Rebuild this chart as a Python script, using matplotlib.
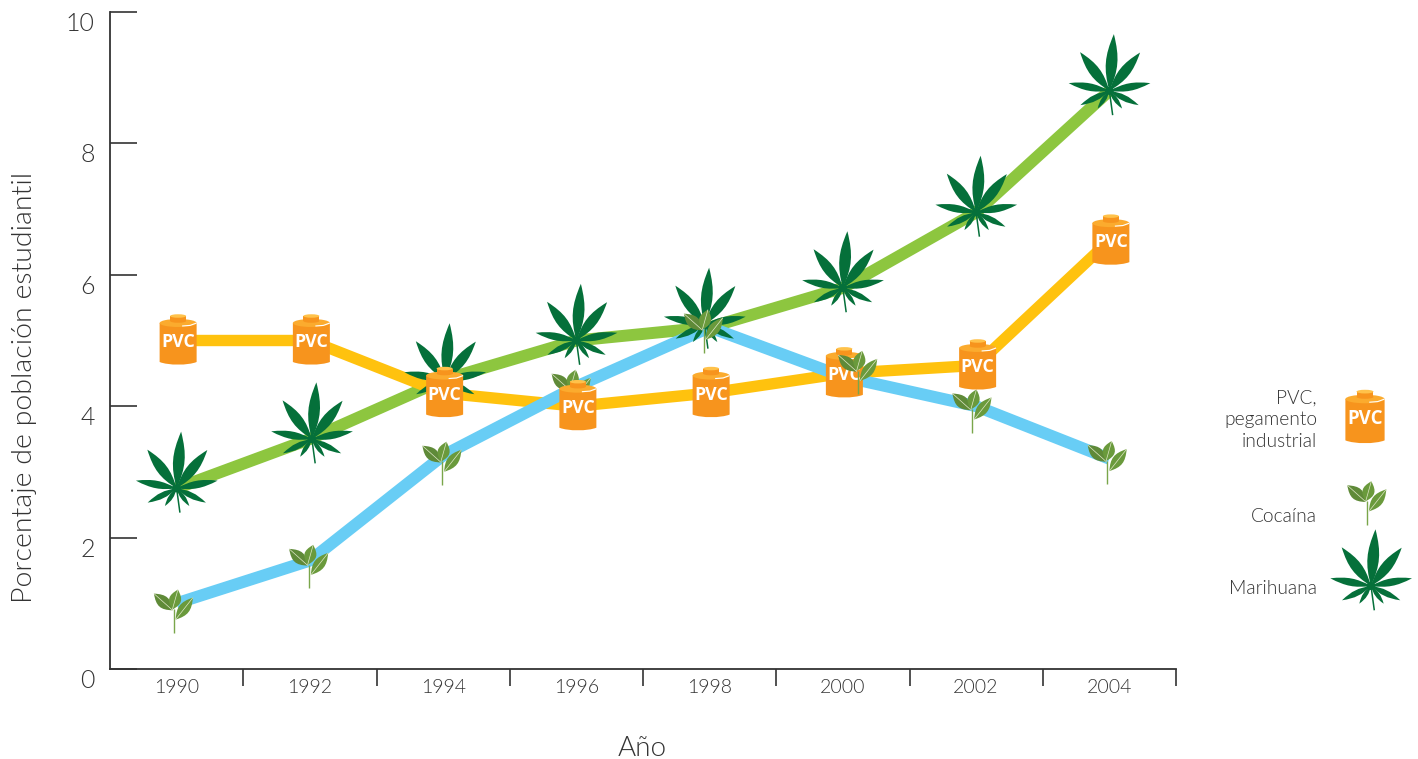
import matplotlib
matplotlib.use("Agg")
import matplotlib.pyplot as plt
import numpy as np
from matplotlib.patches import Ellipse, PathPatch
from matplotlib.path import Path
from matplotlib.transforms import Affine2D, ScaledTranslation

years = ["1990", "1992", "1994", "1996", "1998", "2000", "2002", "2004"]
marihuana = [2.75, 3.5, 4.4, 5.0, 5.2, 5.8, 6.95, 8.8]
cocaina = [1.0, 1.65, 3.25, 4.3, 5.2, 4.45, 4.0, 3.2]
pvc = [5.0, 5.0, 4.2, 4.0, 4.2, 4.5, 4.62, 6.52]

# the icons sit a little off their points in the original (pixels)
leaf_nudge = [(0, 0), (2, 0), (2, 0), (0, 0), (-5, 3), (0, 0), (0, 0), (0, 0)]
coca_nudge = [(-3, 0), (-1, 2), (-1, 0), (-5, 3), (-6, 4), (15, 12), (-4, 3), (-2, 4)]
can_nudge = (1.5, 1.5)

TEXT = "#333333"
W, H = 1418, 759

plt.rcParams["font.family"] = "Lato"
plt.rcParams["font.weight"] = 300

fig = plt.figure(figsize=(W / 100, H / 100), dpi=100)
ax = fig.add_axes([110 / W, (H - 669) / H, 1066 / W, 657 / H])
x = np.arange(len(years))


def lens(base, tip, width):
    base = np.array(base, float)
    tip = np.array(tip, float)
    d = tip - base
    n = np.array([-d[1], d[0]]) / np.hypot(*d) * width / 2 / 0.75
    verts = [base, base + d * 0.38 + n, base + d * 0.6 + n, tip,
             base + d * 0.6 - n, base + d * 0.38 - n, base, base]
    codes = [Path.MOVETO] + [Path.CURVE4] * 6 + [Path.CLOSEPOLY]
    return Path(verts, codes)


def add(patch, trans, z):
    patch.set_zorder(z)
    patch.set_clip_on(False)
    ax.add_artist(patch)
    patch.set_transform(trans)


def draw_leaf(trans, z):
    green = "#05703a"
    leaflets = [((29.3, -14.3), 6), ((-29, -14.3), 6), ((12.7, -17.7), 4.5), ((-11.7, -17.7), 4.5),
                ((41, 7.7), 7.5), ((-40.7, 7.7), 7.5), ((30.7, 38.3), 10.5), ((-29.3, 38.7), 10.5),
                ((4.5, 56.7), 11.5)]
    for tip, width in leaflets:
        add(PathPatch(lens((0, 0), tip, width), fc=green, ec="none"), trans, z)
    add(Ellipse((0, 0), 9, 8, fc=green, ec="none"), trans, z)
    add(PathPatch(Path([(0, 0), (3.3, -24.3)]), ec=green, lw=1.1, fill=False), trans, z)


def draw_coca(trans, z):
    stem = Path([(0, -6), (0, -29.7)])
    add(PathPatch(stem, ec="#7aa64a", lw=1.0, fill=False), trans, z)
    leaves = [((-1, -7), (-19.7, 9.7), 12, "#5f8a38"),
              ((-1.3, -6.3), (4.3, 13.7), 12, "#6a9a3c"),
              ((2, -16.3), (19.3, 5.7), 11, "#6a9a3c")]
    for base, tip, width, col in leaves:
        add(PathPatch(lens(base, tip, width), fc=col, ec="none"), trans, z)
        add(PathPatch(Path([base, tip]), ec="#dfe8c8", lw=0.5, fill=False), trans, z)


def draw_can(trans, z, size=12.8):
    orange = "#f7941d"
    body = Path([(-18.5, 16), (-18.5, -23), (-10, -26.5), (10, -26.5), (18.5, -23),
                 (18.5, 16), (-18.5, 16)],
                [Path.MOVETO, Path.LINETO, Path.CURVE4, Path.CURVE4, Path.CURVE4,
                 Path.LINETO, Path.CLOSEPOLY])
    add(PathPatch(body, fc=orange, ec="none"), trans, z)
    add(Ellipse((0, 16), 37, 8, fc="#fbab2e", ec="none"), trans, z)
    add(PathPatch(Path([(4, 13), (12, 13.6), (18.5, 16)]), ec="white", lw=0.8, fill=False), trans, z)
    cap = Path([(-8, 18), (-8, 23), (8, 23), (8, 18), (-8, 18)])
    add(PathPatch(cap, fc=orange, ec="none"), trans, z)
    add(Ellipse((0, 18), 16, 3.5, fc=orange, ec="none"), trans, z)
    add(Ellipse((0, 23), 16, 3.5, fc="#ffc24a", ec="none"), trans, z)
    ax.text(0, -3, "PVC", transform=trans, color="white", fontsize=size, family="Open Sans",
            weight="bold", ha="center", va="center", zorder=z, clip_on=False)


def at_point(px, py, dx=0, dy=0):
    return Affine2D().translate(dx, dy) + ScaledTranslation(px, py, ax.transData)


def at_pixel(px, py, scale=1.0):
    return Affine2D().scale(scale).translate(px, H - py)


ax.plot(x, marihuana, color="#8dc63f", lw=8.6, solid_capstyle="butt", solid_joinstyle="miter", zorder=2)
ax.plot(x, pvc, color="#ffc20e", lw=8.2, solid_capstyle="butt", solid_joinstyle="miter", zorder=3)
ax.plot(x, cocaina, color="#68cdf5", lw=8.6, solid_capstyle="butt", solid_joinstyle="miter", zorder=4)

for i in range(len(years)):
    draw_leaf(at_point(x[i], marihuana[i], *leaf_nudge[i]), 5)
    # in 2000 the plant lies on top of the can, everywhere else behind it
    draw_coca(at_point(x[i], cocaina[i], *coca_nudge[i]), 8 if years[i] == "2000" else 6)
    draw_can(at_point(x[i], pvc[i], *can_nudge), 7)

ax.set_xlim(-0.5, len(years) - 0.5)
ax.set_ylim(0, 10)
for side in ["top", "right"]:
    ax.spines[side].set_visible(False)
for side in ["left", "bottom"]:
    ax.spines[side].set_linewidth(1.3)
    ax.spines[side].set_color("#333333")

ax.set_yticks(range(0, 11, 2))
ax.tick_params(axis="y", direction="in", length=19.4, width=1.2, color="#333333",
               labelsize=18, labelcolor=TEXT, pad=11)
for lab in ax.get_yticklabels():
    lab.set_va("top")

ax.set_xticks(x)
ax.set_xticklabels(years)
ax.tick_params(axis="x", which="major", length=0, labelsize=14, labelcolor=TEXT, pad=7)
ax.set_xticks(x + 0.5, minor=True)
ax.tick_params(axis="x", which="minor", direction="out", length=12.2, width=1.2, color="#333333")

fig.text(642 / W, 1 - 748 / H, "Año", fontsize=20, color=TEXT, ha="center", va="center")
fig.text(25 / W, 1 - 387 / H, "Porcentaje de población estudiantil", fontsize=20.5, color=TEXT,
         rotation=90, ha="center", va="center")

# leyenda
fig.text(1317 / W, 1 - 420 / H, "PVC,\npegamento\nindustrial", fontsize=13.8, color=TEXT,
         ha="right", va="center", linespacing=1.35)
fig.text(1317 / W, 1 - 516 / H, "Cocaína", fontsize=13.8, color=TEXT, ha="right", va="center")
fig.text(1317 / W, 1 - 588 / H, "Marihuana", fontsize=13.8, color=TEXT, ha="right", va="center")
draw_can(at_pixel(1365, 416, 1.06), 7, size=13.4)
draw_coca(at_pixel(1367, 495), 7)
draw_leaf(at_pixel(1371, 586), 7)

fig.savefig("out.png", dpi=100)
